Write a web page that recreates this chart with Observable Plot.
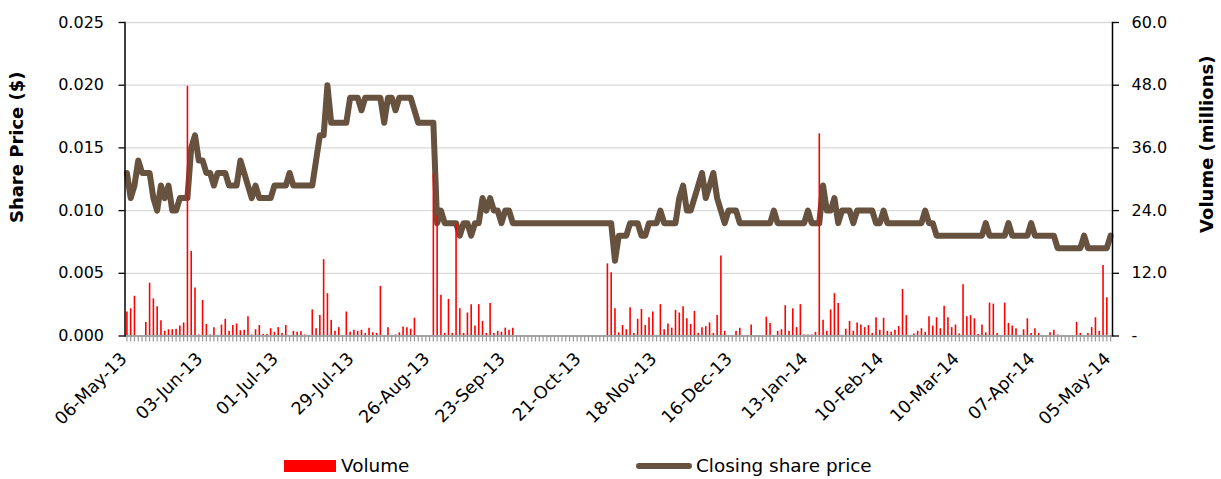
<!DOCTYPE html>
<html><head><meta charset="utf-8">
<script src="https://cdn.jsdelivr.net/npm/d3@7"></script>
<script src="https://cdn.jsdelivr.net/npm/@observablehq/plot@0.6"></script>
<style>
body{margin:0;background:#fff;font-family:"DejaVu Sans",sans-serif;}
#wrap{position:relative;width:1221px;height:479px;overflow:hidden;}
.leg{position:absolute;font-size:18.4px;color:#000;line-height:1;white-space:nowrap;}
</style></head><body><div id="wrap"><div id="chart"></div>
<div class="leg" style="left:284px;top:460px;width:52px;height:12px;background:#ff0000"></div>
<div class="leg" style="left:341px;top:457px">Volume</div>
<div class="leg" style="left:636px;top:463px;width:56px;height:6px;background:#67513f;border-radius:3px"></div>
<div class="leg" style="left:696px;top:457px">Closing share price</div>
</div>
<script>
const startDay = "2013-05-06";
const endDay = "2014-05-05";
const tickLabels = ["06-May-13","03-Jun-13","01-Jul-13","29-Jul-13","26-Aug-13","23-Sep-13","21-Oct-13","18-Nov-13","16-Dec-13","13-Jan-14","10-Feb-14","10-Mar-14","07-Apr-14","05-May-14"];
const priceTicks = [0, 0.005, 0.010, 0.015, 0.020, 0.025];
const priceMax = 0.025;
const volumeMax = 60;

const price = [
.013,.011,.012,.014,.013,.013,.013,.011,.010,.012,
.011,.012,.010,.010,.011,.011,.011,.015,.016,.014,
.014,.013,.013,.012,.013,.013,.013,.012,.012,.012,
.014,.013,.012,.011,.012,.011,.011,.011,.011,.012,
.012,.012,.012,.013,.012,.012,.012,.012,.012,.012,
.014,.016,.016,.020,.017,.017,.017,.017,.017,.019,
.019,.019,.018,.019,.019,.019,.019,.019,.017,.019,
.019,.018,.019,.019,.019,.019,.018,.017,.017,.017,
.017,.017,.009,.010,.009,.009,.009,.009,.008,.009,
.009,.008,.009,.009,.011,.010,.011,.010,.010,.009,
.010,.010,.009,.009,.009,.009,.009,.009,.009,.009,
.009,.009,.009,.009,.009,.009,.009,.009,.009,.009,
.009,.009,.009,.009,.009,.009,.009,.009,.009,.006,
.008,.008,.008,.009,.009,.009,.008,.008,.009,.009,
.009,.010,.009,.009,.009,.009,.011,.012,.010,.010,
.011,.012,.013,.011,.012,.013,.011,.010,.009,.010,
.010,.010,.009,.009,.009,.009,.009,.009,.009,.009,
.009,.010,.009,.009,.009,.009,.009,.009,.009,.009,
.010,.009,.009,.009,.012,.010,.010,.011,.009,.010,
.010,.010,.009,.010,.010,.010,.010,.010,.009,.009,
.010,.009,.009,.009,.009,.009,.009,.009,.009,.009,
.009,.010,.009,.009,.008,.008,.008,.008,.008,.008,
.008,.008,.008,.008,.008,.008,.008,.009,.008,.008,
.008,.008,.008,.009,.008,.008,.008,.008,.008,.009,
.008,.008,.008,.008,.008,.008,.007,.007,.007,.007,
.007,.007,.007,.008,.007,.007,.007,.007,.007,.007,
.008
];

const volume = [
4.6,5.2,7.6,0,0,2.6,10.1,7.1,5.6,2.9,
0.9,1.2,1.2,1.3,1.9,2.5,47.8,16.2,9.2,0.2,
6.8,2.2,0.2,1.6,0,2.1,3.2,0.9,2.0,2.3,
1.0,1.1,3.7,0.2,1.2,2.0,0.3,0.3,1.4,0.7,
1.6,0.5,2.0,0.1,0.9,0.7,0.8,0.2,0,5.0,
1.4,3.9,14.6,8.1,3.0,0.9,1.6,0,4.6,0.7,
1.1,0.9,1.1,0.5,1.5,0.6,0.5,9.5,0,1.6,
0,0.2,0.6,1.7,1.6,1.3,3.4,0,0,0,
0,31,23,7.8,0.5,7.0,0.5,21.5,5.2,0.5,
4.4,6.0,1.9,6.0,2.8,0.5,6.2,0.5,0.9,0.7,
1.5,1.1,1.5,0,0,0,0,0,0,0,
0,0,0,0,0,0,0,0,0,0,
0,0,0,0,0,0,0,13.8,12.1,5.2,
0.6,2.0,1.2,5.4,0.5,3.2,5.1,2.0,3.5,4.6,
0,6.0,1.2,2.3,1.5,4.9,4.4,5.6,3.3,2.2,
4.7,0.5,1.6,1.8,2.5,0.5,3.9,15.3,0.9,0,
0,0.9,1.5,0,0,2.1,0,0,0,3.6,
2.4,0,0.9,1.2,5.8,0.9,5.2,1.6,6.0,0.2,
0.2,0.2,0.7,38.7,3.0,0.9,5.0,8.1,6.2,0,
1.3,2.8,0.9,2.5,2.1,1.6,2.0,0.5,3.5,1.1,
3.4,0.9,0.7,1.1,1.8,8.9,3.9,0,0.4,0.9,
1.4,0.7,3.7,1.9,3.5,1.4,5.7,3.5,1.6,2.1,
0.4,9.8,3.7,3.9,3.3,0.3,2.1,0.6,6.3,6.1,
0.5,0,6.3,2.4,1.9,1.4,0,1.2,3.3,0.5,
1.4,0.5,0,0,0.6,1.1,0.2,0,0,0,
0,2.6,0.5,0,0.5,1.6,3.5,0.9,13.5,7.3,
0
];

const fmt = d3.utcFormat("%d-%b-%y");
const days = d3.utcDay.range(new Date(startDay), d3.utcDay.offset(new Date(endDay), 1))
  .filter(d => d.getUTCDay() !== 0 && d.getUTCDay() !== 6).map(fmt);
const rows = days.map((d, i) => ({date: d, price: price[i], vol: volume[i]}));
const k = priceMax / volumeMax;

const chart = Plot.plot({
  width: 1221, height: 450,
  marginLeft: 124.5, marginRight: 109, marginTop: 22, marginBottom: 114.5,
  style: {fontFamily: "DejaVu Sans", fontSize: "16px", color: "#000", background: "#fff"},
  x: {type: "point", domain: days, padding: 0.5, label: null},
  y: {domain: [0, priceMax], label: null},
  marks: [
    Plot.gridY(priceTicks, {stroke: "#d9d9d9", strokeOpacity: 1, strokeWidth: 1.3}),
    Plot.line(rows, {x: "date", y: "price", stroke: "#67513f", strokeWidth: 6, strokeLinejoin: "round", strokeLinecap: "round"}),
    Plot.ruleX(rows.filter(d => d.vol > 0), {x: "date", y1: 0, y2: d => d.vol * k, stroke: "#ff0000", strokeWidth: 1.6}),
    Plot.ruleY([0], {stroke: "#a6a6a6", strokeWidth: 2}),
    Plot.axisX({ticks: days, tickFormat: () => "", tickSize: 6, stroke: "#9a9a9a", strokeWidth: 1.2, label: null}),
    Plot.axisX({ticks: tickLabels, tickSize: 0, tickPadding: 20, dx: -3, tickRotate: -45, textAnchor: "end", fontSize: 17.5, label: null}),
    Plot.axisY(priceTicks, {anchor: "left", tickSize: 6, tickPadding: 15, tickFormat: d3.format(".3f"), fontSize: 16, label: null, strokeWidth: 1.3}),
    Plot.axisY(priceTicks, {anchor: "right", tickSize: 6, tickPadding: 13, tickFormat: d => d === 0 ? "-" : (d / k).toFixed(1), textAnchor: "start", fontSize: 16, label: null, strokeWidth: 1.3}),
    Plot.frame({anchor: "left", stroke: "#000", strokeWidth: 1.5}),
    Plot.frame({anchor: "right", stroke: "#000", strokeWidth: 1.5}),
    Plot.text(["Share Price ($)"], {frameAnchor: "left", textAnchor: "middle", lineAnchor: "middle", dx: -107.5, dy: -32, rotate: -90, fontWeight: "bold", fontSize: 18}),
    Plot.text(["Volume (millions)"], {frameAnchor: "right", textAnchor: "middle", lineAnchor: "middle", dx: 95, dy: -35, rotate: -90, fontWeight: "bold", fontSize: 18})
  ]
});
document.getElementById("chart").appendChild(chart);
</script>
</body></html>
